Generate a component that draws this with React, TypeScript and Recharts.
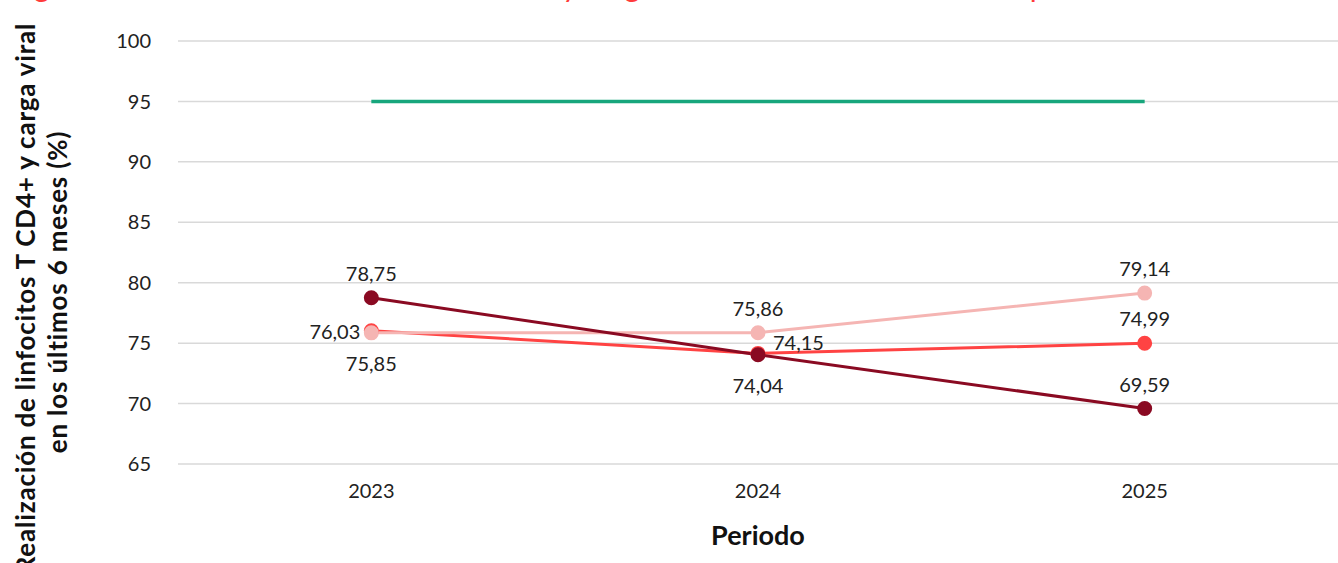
import React from 'react';
import { LineChart, Line, XAxis, YAxis, CartesianGrid } from 'recharts';

const periods = ['2023', '2024', '2025'];
const serieOscura = [78.75, 74.04, 69.59];
const serieRoja = [76.03, 74.15, 74.99];
const serieRosa = [75.85, 75.86, 79.14];
const meta = [95, 95, 95];
const yTicks = [65, 70, 75, 80, 85, 90, 95, 100];

const data = periods.map((p, i) => ({
  periodo: p,
  oscura: serieOscura[i],
  roja: serieRoja[i],
  rosa: serieRosa[i],
  meta: meta[i],
}));

// where each value label sits relative to its point
const posOscura = ['top', 'bottom', 'top'];
const posRoja = ['left', 'right', 'top'];
const posRosa = ['bottom', 'top', 'top'];

const FONT = 'Lato, "Open Sans", sans-serif';

const fmt = (v: number) => v.toFixed(2).replace('.', ',');

function makeLabel(positions: string[]) {
  return (props: any) => {
    const { x, y, value, index } = props;
    const pos = positions[index];
    let tx = x;
    let ty = y;
    let anchor: 'start' | 'middle' | 'end' = 'middle';
    if (pos === 'top') ty = y - 25;
    else if (pos === 'bottom') ty = y + 30;
    else if (pos === 'left') {
      tx = x - 11;
      anchor = 'end';
    } else if (pos === 'right') {
      tx = x + 15;
      ty = y - 11;
      anchor = 'start';
    }
    return (
      <text
        key={`lbl-${index}`}
        x={tx}
        y={ty}
        textAnchor={anchor}
        dominantBaseline="central"
        fontSize={20}
        fontFamily={FONT}
        fill="#222"
      >
        {fmt(value)}
      </text>
    );
  };
}

const YTitle = () => (
  <g fontFamily={FONT} fontWeight={700} fontSize={26} letterSpacing={0.8} fill="#111" textAnchor="middle">
    <text x={35} y={298} transform="rotate(-90, 35, 298)">
      Realización de linfocitos T CD4+ y carga viral
    </text>
    <text x={67} y={292} transform="rotate(-90, 67, 292)">
      en los últimos 6 meses (%)
    </text>
  </g>
);

export default function App() {
  return (
    <div style={{ position: 'absolute', left: 0, top: 0, width: 1338, height: 563, background: '#fff' }}>
      <svg width={1338} height={563} style={{ position: 'absolute', left: 0, top: 0 }}>
        <text x={10} y={-3} fontFamily={FONT} fontSize={30} fill="#ff3b3b">
          Figura 5. Realización de linfocitos T CD4+ y carga viral en los últimos 6 meses por año
        </text>
        <YTitle />
      </svg>
      <div style={{ position: 'absolute', left: 0, top: 0 }}>
        <LineChart width={1338} height={563} data={data} margin={{ top: 41, right: 0, bottom: 0, left: 0 }}>
          <CartesianGrid vertical={false} stroke="#d9d9d9" strokeWidth={1.5} />
          <XAxis
            dataKey="periodo"
            scale="band"
            axisLine={false}
            tickLine={false}
            tickSize={0}
            tickMargin={20}
            height={99}
            tick={{ fontSize: 20, fontFamily: FONT, fill: '#222' }}
            label={{
              value: 'Periodo',
              position: 'insideBottom',
              offset: 18,
              style: { fontSize: 27, fontWeight: 700, fontFamily: FONT, fill: '#111' },
            }}
          />
          <YAxis
            domain={[65, 100]}
            ticks={yTicks}
            axisLine={false}
            tickLine={false}
            tickSize={0}
            tickMargin={27}
            width={178}
            tick={{ fontSize: 20, fontFamily: FONT, fill: '#222' }}
          />
          <Line dataKey="meta" stroke="#17a67c" strokeWidth={3.5} dot={false} isAnimationActive={false} />
          <Line
            dataKey="roja"
            stroke="#ff4343"
            strokeWidth={3}
            dot={{ r: 6, fill: '#ff4343', stroke: '#ff4343' }}
            label={makeLabel(posRoja)}
            isAnimationActive={false}
          />
          <Line
            dataKey="rosa"
            stroke="#f5b5b3"
            strokeWidth={3}
            dot={{ r: 6, fill: '#f5b5b3', stroke: '#f5b5b3' }}
            label={makeLabel(posRosa)}
            isAnimationActive={false}
          />
          <Line
            dataKey="oscura"
            stroke="#8a0a22"
            strokeWidth={3}
            dot={{ r: 6, fill: '#8a0a22', stroke: '#8a0a22' }}
            label={makeLabel(posOscura)}
            isAnimationActive={false}
          />
        </LineChart>
      </div>
    </div>
  );
}
